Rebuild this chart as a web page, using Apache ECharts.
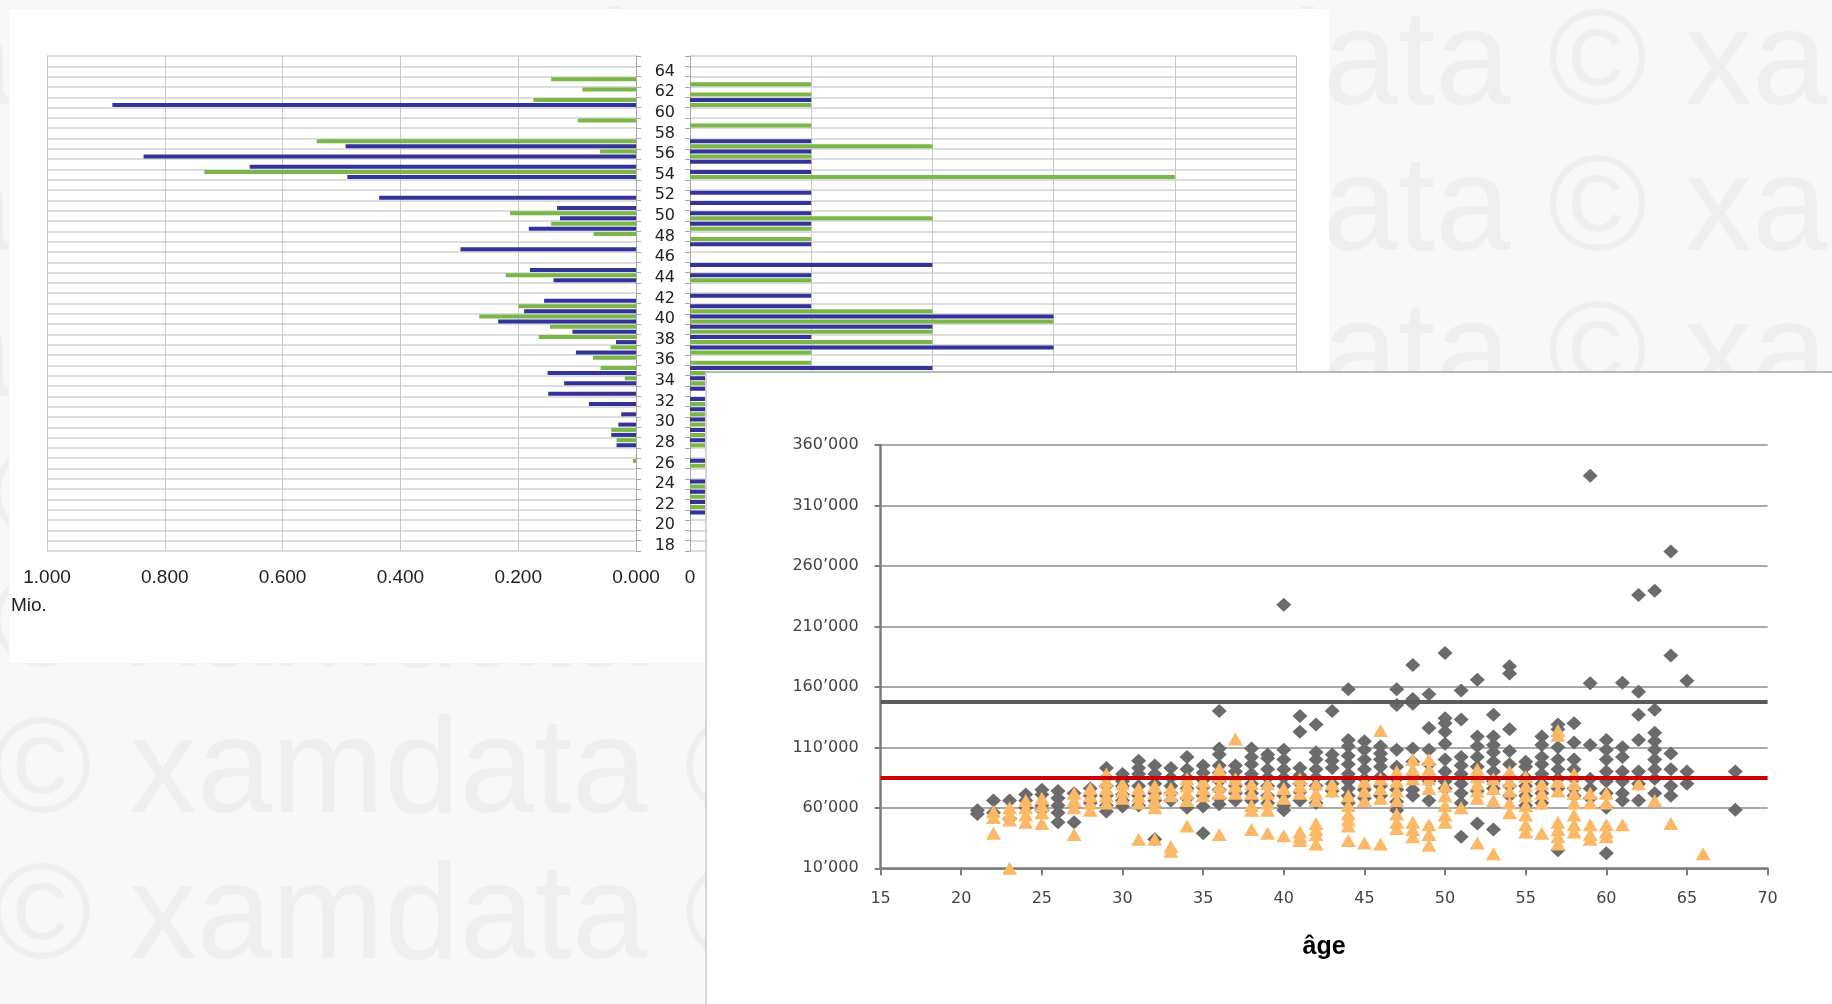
<!DOCTYPE html>
<html><head><meta charset="utf-8">
<script src="https://cdn.jsdelivr.net/npm/echarts@6/dist/echarts.min.js"></script>
<style>
html,body{margin:0;padding:0;}
body{width:1832px;height:1004px;overflow:hidden;background:#f8f8f8;position:relative;}
#wm{position:absolute;left:0;top:0;width:1832px;height:1004px;overflow:hidden;}
.wmrow{position:absolute;white-space:nowrap;font-family:"Liberation Sans",Arial,sans-serif;font-size:135px;line-height:135px;color:#efeef1;}
#bars{position:absolute;left:9px;top:9px;width:1320px;height:654px;background:#fff;}
#scat{position:absolute;left:705px;top:371px;width:1127px;height:633px;background:#fff;}
#lineL{position:absolute;left:705px;top:371px;width:2px;height:633px;background:#d4d4d4;}
#lineT{position:absolute;left:705px;top:371px;width:1127px;height:2px;background:#b8b8b8;}
</style></head>
<body>
<div id="wm"></div>
<div id="bars"></div>
<div id="scat"></div>
<div id="lineL"></div>
<div id="lineT"></div>
<script>
// ---------- data: bar panels (ages 18..65) ----------
const ageCats = ['18','19','20','21','22','23','24','25','26','27','28','29','30','31','32','33','34','35','36','37','38','39','40','41','42','43','44','45','46','47','48','49','50','51','52','53','54','55','56','57','58','59','60','61','62','63','64','65'];
// left panel, Mio.
const leftBlue  = [0,0,0,0,0,0,0,0,0,0, 0.033,0.042,0.030,0.025,0.080,0.149,0.122,0.150,0,0.102, 0.034,0.108,0.234,0.190,0.156,0,0.140,0.180,0,0.298, 0,0.182,0.129,0.134,0.436,0,0.490,0.656,0.836,0.493, 0,0,0,0.889,0,0,0,0];
const leftGreen = [0,0,0,0,0,0,0,0,0.005,0, 0.033,0.042,0,0,0,0,0.019,0.060,0.073,0.043, 0.165,0.146,0.266,0.199,0,0,0.221,0,0,0, 0.072,0.144,0.214,0,0,0,0.733,0,0.061,0.542, 0,0.099,0,0.174,0.091,0.144,0,0];
// right panel, counts
const rightBlue  = [0,0,0,1,1,1,1,0,1,0, 1,1,1,1,1,1,1,2,0,3, 1,2,3,1,1,0,1,2,0,1, 0,1,1,1,1,0,1,1,1,1, 0,0,0,1,0,0,0,0];
const rightGreen = [0,0,0,0,1,1,1,0,1,0, 1,1,1,1,1,0,1,1,1,1, 2,2,3,2,0,0,1,0,0,0, 1,1,2,0,0,0,4,0,1,2, 0,1,0,1,1,1,0,0];
const leftTicks = [0, 0.2, 0.4, 0.6, 0.8, 1.0];

// ---------- data: scatter (age, amount) ----------
const diamondPoints = [
 [21,55000],[21,58000],[22,66000],[22,56000],[23,66000],[23,51000],
 [24,71000],[24,66000],[24,60000],[25,75000],[25,71000],[25,62000],[25,58000],
 [26,74000],[26,68000],[26,62000],[26,56000],[26,48000],[27,72000],[27,48000],
 [28,76000],[28,70000],[28,64000],
 [29,93000],[29,85000],[29,78000],[29,70000],[29,62000],[29,57000],
 [30,88000],[30,82000],[30,78000],[30,71000],[30,66000],[30,61000],
 [31,99000],[31,93000],[31,88000],[31,78000],[31,70000],[31,62000],
 [32,95000],[32,88000],[32,80000],[32,72000],[32,66000],[32,34000],
 [33,93000],[33,85000],[33,78000],[33,72000],[33,66000],
 [34,102000],[34,92000],[34,85000],[34,76000],[34,68000],[34,60000],
 [35,95000],[35,89000],[35,83000],[35,77000],[35,70000],[35,61000],[35,39000],
 [36,140000],[36,109000],[36,104000],[36,95000],[36,89000],[36,82000],[36,75000],[36,68000],[36,63000],
 [37,95000],[37,90000],[37,84000],[37,78000],[37,72000],[37,66000],
 [38,109000],[38,102000],[38,96000],[38,88000],[38,80000],[38,72000],[38,66000],
 [39,104000],[39,101000],[39,92000],[39,85000],[39,78000],[39,70000],[39,64000],
 [40,228000],[40,108000],[40,100000],[40,92000],[40,85000],[40,78000],[40,70000],[40,62000],[40,58000],
 [41,136000],[41,123000],[41,93000],[41,87000],[41,80000],[41,73000],[41,66000],
 [42,129000],[42,106000],[42,100000],[42,92000],[42,85000],[42,78000],[42,64000],
 [43,140000],[43,104000],[43,99000],[43,93000],[43,80000],[43,74000],
 [44,158000],[44,116000],[44,111000],[44,103000],[44,96000],[44,88000],[44,82000],[44,76000],[44,70000],[44,64000],
 [45,115000],[45,108000],[45,100000],[45,92000],[45,84000],[45,75000],[45,68000],
 [46,111000],[46,105000],[46,100000],[46,94000],[46,86000],[46,78000],[46,70000],
 [47,158000],[47,145000],[47,108000],[47,94000],[47,84000],[47,75000],[47,65000],[47,58000],
 [48,178000],[48,150000],[48,146000],[48,109000],[48,98000],[48,86000],[48,75000],[48,70000],
 [49,154000],[49,126000],[49,108000],[49,96000],[49,82000],[49,66000],
 [50,188000],[50,134000],[50,130000],[50,123000],[50,113000],[50,100000],[50,90000],[50,82000],[50,76000],
 [51,157000],[51,133000],[51,102000],[51,95000],[51,88000],[51,80000],[51,72000],[51,64000],[51,36000],
 [52,166000],[52,119000],[52,111000],[52,102000],[52,94000],[52,84000],[52,74000],[52,47000],
 [53,137000],[53,119000],[53,112000],[53,106000],[53,98000],[53,90000],[53,82000],[53,76000],[53,42000],
 [54,177000],[54,171000],[54,125000],[54,107000],[54,96000],[54,86000],[54,78000],[54,70000],
 [55,98000],[55,94000],[55,85000],[55,78000],[55,70000],[55,62000],
 [56,119000],[56,112000],[56,102000],[56,96000],[56,88000],[56,80000],[56,72000],[56,64000],
 [57,129000],[57,125000],[57,110000],[57,100000],[57,92000],[57,84000],[57,76000],[57,25000],
 [58,130000],[58,114000],[58,100000],[58,92000],[58,84000],[58,76000],[58,70000],
 [59,334500],[59,163000],[59,112000],[59,84000],[59,76000],[59,68000],
 [60,116000],[60,108000],[60,100000],[60,90000],[60,82000],[60,72000],[60,60000],[60,22500],
 [61,163500],[61,110000],[61,102000],[61,90000],[61,82000],[61,72000],[61,66000],
 [62,236000],[62,156000],[62,137000],[62,116000],[62,90000],[62,80000],[62,66000],
 [63,239500],[63,141000],[63,122000],[63,115000],[63,108000],[63,100000],[63,92000],[63,84000],[63,72000],
 [64,272000],[64,186000],[64,105000],[64,92000],[64,78000],[64,70000],
 [65,165000],[65,90000],[65,80000],
 [68,90000],[68,58400]
];
const trianglePoints = [
 [22,57000],[22,52000],[22,39000],[23,60000],[23,55000],[23,50000],[23,10000],
 [24,66000],[24,60000],[24,54000],[24,48000],[25,68000],[25,62000],[25,56000],[25,47000],
 [27,72000],[27,66000],[27,60000],[27,38000],[28,76000],[28,70000],[28,64000],[28,58000],
 [29,88000],[29,82000],[29,76000],[29,70000],[29,64000],[30,80000],[30,74000],[30,68000],
 [31,76000],[31,70000],[31,64000],[31,34000],[32,78000],[32,72000],[32,66000],[32,60000],[32,34000],
 [33,76000],[33,70000],[33,28000],[33,24000],[34,84000],[34,78000],[34,72000],[34,66000],[34,45000],
 [35,82000],[35,76000],[35,70000],[36,92000],[36,86000],[36,78000],[36,72000],[36,38000],
 [37,117000],[37,84000],[37,78000],[37,72000],[38,80000],[38,72000],[38,62000],[38,58000],[38,42000],
 [39,80000],[39,72000],[39,64000],[39,58000],[39,39000],[40,76000],[40,68000],[40,37000],
 [41,84000],[41,78000],[41,72000],[41,40000],[41,36000],[41,33000],
 [42,80000],[42,72000],[42,66000],[42,47000],[42,42000],[42,38000],[42,30000],[43,80000],[43,74000],
 [44,70000],[44,62000],[44,55000],[44,50000],[44,45000],[44,33000],[45,82000],[45,74000],[45,66000],[45,31000],
 [46,124000],[46,84000],[46,76000],[46,68000],[46,30000],
 [47,90000],[47,82000],[47,74000],[47,66000],[47,55000],[47,48000],[47,43000],
 [48,100000],[48,92000],[48,84000],[48,48000],[48,42000],[48,36000],
 [49,100000],[49,92000],[49,84000],[49,76000],[49,46000],[49,38000],[49,29000],
 [50,78000],[50,70000],[50,62000],[50,54000],[50,48000],[51,60000],
 [52,92000],[52,86000],[52,80000],[52,74000],[52,68000],[52,31000],[53,84000],[53,76000],[53,66000],[53,22000],
 [54,90000],[54,82000],[54,74000],[54,64000],[54,56000],
 [55,86000],[55,78000],[55,70000],[55,62000],[55,54000],[55,46000],[55,40000],
 [56,80000],[56,72000],[56,64000],[56,39000],
 [57,124000],[57,120000],[57,82000],[57,74000],[57,48000],[57,42000],[57,36000],[57,30000],
 [58,88000],[58,80000],[58,72000],[58,64000],[58,54000],[58,46000],[58,40000],
 [59,72000],[59,64000],[59,46000],[59,38000],[59,34000],[60,72000],[60,64000],[60,46000],[60,40000],[60,36000],
 [61,46000],[62,80000],[63,66000],[64,47000],[66,22000]
];
const refLines = { gray: 147500, red: 85000 };
const yTicks = { min: 10000, max: 360000, step: 50000 };
const xTicks = { min: 15, max: 70, step: 5 };

// ---------- watermark ----------
const wmText = 'xamdata © xamdata © xamdata © xamdata ©';
const wmRows = [[100,-392],[246,-392],[392,-392],[535,-563],[662,-563],[808,-563],[954,-563]];
const wm = document.getElementById('wm');
wmRows.forEach(([base, x]) => {
  const d = document.createElement('div');
  d.className = 'wmrow';
  d.textContent = wmText;
  d.style.left = x + 'px';
  d.style.top = (base - 110) + 'px';
  wm.appendChild(d);
});

// ---------- bar chart ----------
const BLUE = '#333399', GREEN = '#7ab648';
const gridLine = '#d2d2d2';
const bars = echarts.init(document.getElementById('bars'), null, {renderer: 'canvas'});
const catAxisBase = {
  type: 'category', data: ageCats,
  axisLine: {show: true, lineStyle: {color: '#a8a8a8', width: 1}},
  axisTick: {show: true, interval: 0, length: 5, lineStyle: {color: '#a8a8a8'}},
  splitLine: {show: true, interval: 0, lineStyle: {color: gridLine, width: 1.5}}
};
bars.setOption({
  animation: false,
  grid: [
    {left: 38, top: 47, width: 589, height: 495, outerBoundsMode: 'none'},
    {left: 681, top: 47, width: 606, height: 495, outerBoundsMode: 'none'}
  ],
  xAxis: [
    {gridIndex: 0, type: 'value', inverse: true, min: leftTicks[0], max: leftTicks[5], interval: 0.2,
     axisLine: {show: false}, axisTick: {show: false},
     axisLabel: {formatter: v => v.toFixed(3), fontFamily: 'Liberation Sans', fontSize: 19, color: '#222', margin: 17},
     splitLine: {show: true, lineStyle: {color: '#c8c8c8', width: 1}}},
    {gridIndex: 1, type: 'value', min: 0, max: 5, interval: 1,
     axisLine: {show: false}, axisTick: {show: false},
     axisLabel: {fontFamily: 'Liberation Sans', fontSize: 19, color: '#222', margin: 17},
     splitLine: {show: true, lineStyle: {color: '#c8c8c8', width: 1}}}
  ],
  yAxis: [
    Object.assign({}, catAxisBase, {gridIndex: 0, position: 'right', axisLabel: {show: false}}),
    Object.assign({}, catAxisBase, {gridIndex: 1, position: 'left',
      axisLabel: {show: true, interval: 1, margin: 15, padding: [5, 0, 0, 0], fontFamily: 'DejaVu Sans', fontSize: 16, color: '#222'}})
  ],
  graphic: [{type: 'text', left: 2, top: 587, style: {text: 'Mio.', font: '19px "Liberation Sans"', fill: '#222'}}],
  series: [
    {type: 'bar', xAxisIndex: 0, yAxisIndex: 0, data: leftGreen, barWidth: 4, barGap: '25%', itemStyle: {color: GREEN}},
    {type: 'bar', xAxisIndex: 0, yAxisIndex: 0, data: leftBlue, barWidth: 4, barGap: '25%', itemStyle: {color: BLUE}},
    {type: 'bar', xAxisIndex: 1, yAxisIndex: 1, data: rightBlue, barWidth: 4, barGap: '25%', itemStyle: {color: BLUE}},
    {type: 'bar', xAxisIndex: 1, yAxisIndex: 1, data: rightGreen, barWidth: 4, barGap: '25%', itemStyle: {color: GREEN}}
  ]
});

// ---------- scatter chart ----------
const fmt = n => String(n).replace(/\B(?=(\d{3})+(?!\d))/g, '\u2019');
const shift = p => [p[0], p[1] - yTicks.min];
const axisGray = '#7c7c7c';
const sc = echarts.init(document.getElementById('scat'), null, {renderer: 'canvas'});
sc.setOption({
  animation: false,
  grid: {left: 175.6, top: 74, width: 887, height: 423.3, outerBoundsMode: 'none'},
  xAxis: {type: 'value', min: xTicks.min, max: xTicks.max, interval: xTicks.step,
    name: 'âge', nameLocation: 'middle', nameGap: 66,
    nameTextStyle: {fontFamily: 'Liberation Sans', fontWeight: 'bold', fontSize: 25, color: '#000'},
    axisLine: {show: true, onZero: false, lineStyle: {color: axisGray, width: 2.5}},
    axisTick: {show: true, length: 7, lineStyle: {color: axisGray, width: 2}},
    axisLabel: {margin: 23, fontFamily: 'DejaVu Sans', fontSize: 16, color: '#444'},
    splitLine: {show: false}},
  yAxis: {type: 'value', min: 0, max: yTicks.max - yTicks.min, interval: yTicks.step,
    axisLine: {show: true, lineStyle: {color: axisGray, width: 2.5}},
    axisTick: {show: true, length: 6, lineStyle: {color: axisGray, width: 2}},
    axisLabel: {margin: 22, fontFamily: 'DejaVu Sans', fontSize: 16, color: '#444', formatter: v => fmt(v + yTicks.min)},
    splitLine: {show: true, lineStyle: {color: '#a9a9a9', width: 2}}},
  series: [
    {type: 'scatter', symbol: 'diamond', symbolSize: [15, 14], data: diamondPoints.map(shift),
     itemStyle: {color: '#6b6b6b', opacity: 1}},
    {type: 'scatter', symbol: 'triangle', symbolSize: [15, 13], data: trianglePoints.map(shift),
     itemStyle: {color: '#fbb967', opacity: 1}},
    {type: 'scatter', data: [], z: 5,
     markLine: {symbol: 'none', silent: true, label: {show: false}, animation: false,
       data: [
         {yAxis: refLines.gray - yTicks.min, lineStyle: {color: '#5c5c5c', width: 4, type: 'solid'}},
         {yAxis: refLines.red - yTicks.min, lineStyle: {color: '#c80000', width: 4, type: 'solid'}}
       ]}}
  ]
});
</script>
</body></html>
